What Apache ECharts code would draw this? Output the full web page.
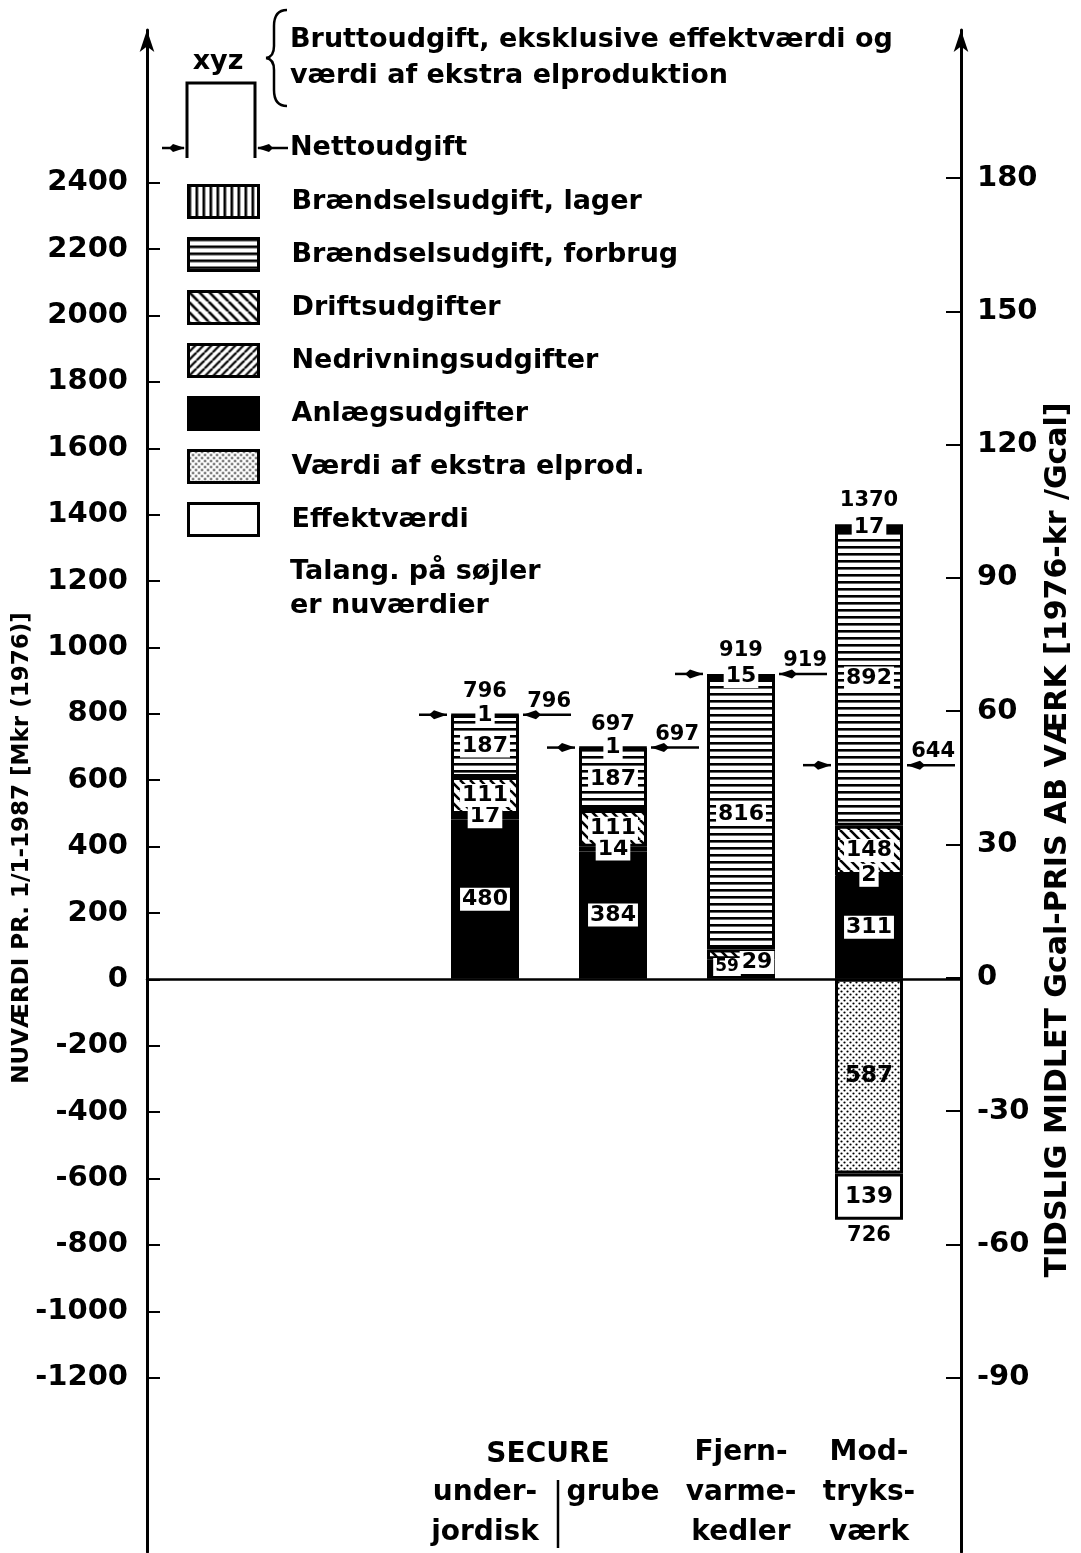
<!DOCTYPE html>
<html>
<head>
<meta charset="utf-8">
<script src="https://cdn.jsdelivr.net/npm/echarts@6/dist/echarts.min.js"></script>
<style>
html,body{margin:0;padding:0;background:#fff;}
#chart{width:1081px;height:1553px;}
</style>
</head>
<body>
<div id="chart"></div>
<script>
// ---------------- data ----------------
const categories = ['\nunder-\njordisk', '\ngrube', 'Fjern-\nvarme-\nkedler', 'Mod-\ntryks-\nværk'];
const anlaeg     = [480, 384, 59, 311];
const nedrivning = [17, 14, null, 2];
const drift      = [111, 111, 29, 148];
const forbrug    = [187, 187, 816, 892];
const lager      = [1, 1, 15, 17];
const elprod     = [null, null, null, -587];
const effekt     = [null, null, null, -139];
const bruttoTotal = [796, 697, 919, 1370];
const negTotal    = [null, null, null, -726];
const netto       = [796, 697, 919, 644];
const leftTicks  = [-1200, -1000, -800, -600, -400, -200, 0, 200, 400, 600, 800, 1000, 1200, 1400, 1600, 1800, 2000, 2200, 2400];
const rightTicks = [-90, -60, -30, 0, 30, 60, 90, 120, 150, 180];

const names = {
  lager: 'Brændselsudgift, lager',
  forbrug: 'Brændselsudgift, forbrug',
  drift: 'Driftsudgifter',
  nedriv: 'Nedrivningsudgifter',
  anlaeg: 'Anlægsudgifter',
  elprod: 'Værdi af ekstra elprod.',
  effekt: 'Effektværdi'
};

// ---------------- patterns ----------------
function pat(w, h, draw) {
  const c = document.createElement('canvas');
  c.width = w; c.height = h;
  const g = c.getContext('2d');
  g.fillStyle = '#fff'; g.fillRect(0, 0, w, h);
  g.fillStyle = '#000'; g.strokeStyle = '#000';
  draw(g, w, h);
  return { image: c, repeat: 'repeat' };
}
const patHoriz = pat(8, 7, (g, w) => { g.fillRect(0, 0, w, 2.6); });
const patVert  = pat(7, 8, (g, w, h) => { g.fillRect(0, 0, 2.6, h); });
const patBack  = pat(10, 10, (g, w) => {
  g.lineWidth = 2.6;
  for (const o of [-w, 0, w]) { g.beginPath(); g.moveTo(o, 0); g.lineTo(o + w, w); g.stroke(); }
});
const patFwd   = pat(8, 8, (g, w) => {
  g.lineWidth = 2.2;
  for (const o of [-w, 0, w]) { g.beginPath(); g.moveTo(o, w); g.lineTo(o + w, 0); g.stroke(); }
});
const patDots  = pat(6, 6, (g) => {
  g.beginPath(); g.arc(1.5, 1.5, 1.1, 0, Math.PI * 2); g.fill();
  g.beginPath(); g.arc(4.5, 4.5, 1.1, 0, Math.PI * 2); g.fill();
});

// ---------------- layout ----------------
const FONT = 'DejaVu Sans';
const BAR_W = 68;
const LMAX = 2860, LMIN0 = -1725, LMIN1 = -1357;
const RMAX = 213.3, RMIN = -129.2;

const segLabel = {
  show: true, position: 'inside', fontFamily: FONT, fontWeight: 'bold', fontSize: 22,
  color: '#000', backgroundColor: '#fff', padding: [1, 2, 0, 2],
  formatter: p => String(Math.abs(p.value))
};

function barSeries(name, values, color, extra) {
  return Object.assign({
    name, type: 'bar', stack: 'tot', xAxisIndex: 1, yAxisIndex: 2,
    barWidth: BAR_W, data: values,
    itemStyle: { color, borderColor: '#000', borderWidth: 3 },
    label: segLabel,
    emphasis: { disabled: true }
  }, extra || {});
}

const anlaegData = anlaeg.map((v, i) => i === 2 ? { value: v, label: { offset: [-14, -2], fontSize: 17 } } : v);
const driftData  = drift.map((v, i) => i === 2 ? { value: v, label: { offset: [16, 8] } } : v);

const arrowSeries = {
  type: 'custom', name: 'Nettoudgift', xAxisIndex: 1, yAxisIndex: 2, z: 5,
  data: netto.map((v, i) => [i, v]),
  renderItem: (params, api) => {
    const p = api.coord([api.value(0), api.value(1)]);
    const xl = p[0] - BAR_W / 2, xr = p[0] + BAR_W / 2, y = p[1];
    const ls = { stroke: '#000', lineWidth: 2.5 };
    return {
      type: 'group', children: [
        { type: 'line', shape: { x1: xl - 32, y1: y, x2: xl - 4, y2: y }, style: ls },
        { type: 'polygon', shape: { points: [[xl - 4, y], [xl - 17, y - 4.5], [xl - 22, y], [xl - 17, y + 4.5]] }, style: { fill: '#000' } },
        { type: 'line', shape: { x1: xr + 4, y1: y, x2: xr + 52, y2: y }, style: ls },
        { type: 'polygon', shape: { points: [[xr + 4, y], [xr + 17, y - 4.5], [xr + 22, y], [xr + 17, y + 4.5]] }, style: { fill: '#000' } },
        { type: 'text', style: { x: xr + 52, y: y - 3, text: String(api.value(1)), align: 'right', verticalAlign: 'bottom', font: 'bold 21px ' + FONT, fill: '#000' } }
      ]
    };
  }
};

const totalSeries = {
  type: 'custom', name: 'Total', xAxisIndex: 1, yAxisIndex: 2, z: 5,
  data: bruttoTotal.map((v, i) => [i, v]).concat(negTotal.map((v, i) => [i, v]).filter(d => d[1] !== null)),
  renderItem: (params, api) => {
    const v = api.value(1);
    const p = api.coord([api.value(0), v]);
    return {
      type: 'text',
      style: { x: p[0], y: v >= 0 ? p[1] - 13 : p[1] + 5, text: String(Math.abs(v)), align: 'center',
        verticalAlign: v >= 0 ? 'bottom' : 'top', font: 'bold 21px ' + FONT, fill: '#000' }
    };
  }
};

const txt = (x, y, text, size, extra) => ({
  type: 'text', x, y, style: Object.assign({ text, font: 'bold ' + size + 'px ' + FONT, fill: '#000', verticalAlign: 'middle' }, extra || {})
});
const bz = (x1, y1, cx, cy, x2, y2) => ({
  type: 'bezierCurve', shape: { x1, y1, x2, y2, cpx1: cx, cpy1: cy }, style: { stroke: '#000', lineWidth: 2.5, fill: null }
});
const ln = (x1, y1, x2, y2, w) => ({ type: 'line', shape: { x1, y1, x2, y2 }, style: { stroke: '#000', lineWidth: w || 2.5 } });

const option = {
  backgroundColor: '#fff',
  animation: false,
  textStyle: { fontFamily: FONT, color: '#000' },
  grid: [
    { left: 147, right: 120, top: 30, bottom: 1 },
    { left: 421, right: 148, top: 30, bottom: 123 }
  ],
  xAxis: [
    { type: 'category', gridIndex: 0, data: [''], axisLine: { onZero: true, lineStyle: { color: '#000', width: 2.5 } }, axisTick: { show: false }, axisLabel: { show: false } },
    { type: 'category', gridIndex: 1, data: categories, axisLine: { show: false }, axisTick: { show: false },
      axisLabel: { interval: 0, margin: 4, fontFamily: FONT, fontWeight: 'bold', fontSize: 28, lineHeight: 40, color: '#000' } }
  ],
  yAxis: [
    { type: 'value', gridIndex: 0, position: 'left', min: LMIN0, max: LMAX,
      axisLine: { show: true, symbol: ['none', 'arrow'], symbolSize: [11, 22], lineStyle: { color: '#000', width: 3 } },
      axisTick: { show: true, inside: true, length: 13, customValues: leftTicks, lineStyle: { color: '#000', width: 2 } },
      axisLabel: { customValues: leftTicks, margin: 19, fontFamily: FONT, fontWeight: 'bold', fontSize: 29, color: '#000', formatter: v => String(v) },
      splitLine: { show: false } },
    { type: 'value', gridIndex: 0, position: 'right', min: RMIN, max: RMAX,
      axisLine: { show: true, symbol: ['none', 'arrow'], symbolSize: [11, 22], lineStyle: { color: '#000', width: 3 } },
      axisTick: { show: true, inside: true, length: 15, customValues: rightTicks, lineStyle: { color: '#000', width: 2 } },
      axisLabel: { customValues: rightTicks, margin: 16, fontFamily: FONT, fontWeight: 'bold', fontSize: 29, color: '#000', formatter: v => String(v) },
      splitLine: { show: false } },
    { type: 'value', gridIndex: 1, min: LMIN1, max: LMAX, show: false, splitLine: { show: false } }
  ],
  legend: {
    data: [names.lager, names.forbrug, names.drift, names.nedriv, names.anlaeg, names.elprod, names.effekt],
    orient: 'vertical', left: 182, top: 179, padding: 5, itemWidth: 70, itemHeight: 32, itemGap: 18, icon: 'rect',
    selectedMode: false,
    itemStyle: { borderColor: '#000', borderWidth: 3 },
    textStyle: { fontFamily: FONT, fontWeight: 'bold', fontSize: 27, lineHeight: 28, color: '#000', padding: [0, 0, 0, 28] }
  },
  series: [
    barSeries(names.anlaeg, anlaegData, '#000'),
    barSeries(names.nedriv, nedrivning, patFwd),
    barSeries(names.drift, driftData, patBack),
    barSeries(names.forbrug, forbrug, patHoriz),
    barSeries(names.lager, lager, patVert),
    barSeries(names.elprod, elprod, patDots, { label: Object.assign({}, segLabel, { backgroundColor: 'transparent', fontSize: 23 }) }),
    barSeries(names.effekt, effekt, '#fff', { label: Object.assign({}, segLabel, { backgroundColor: 'transparent', fontSize: 23 }) }),
    arrowSeries,
    totalSeries
  ],
  graphic: [
    // header schematic for the legend
    txt(218, 62, 'xyz', 27, { align: 'center' }),
    { type: 'polyline', shape: { points: [[187, 158], [187, 83], [255, 83], [255, 158]] }, style: { stroke: '#000', lineWidth: 3, fill: null } },
    ln(162, 148, 184, 148),
    { type: 'polygon', shape: { points: [[185, 148], [173, 144], [169, 148], [173, 152]] }, style: { fill: '#000' } },
    ln(258, 148, 288, 148),
    { type: 'polygon', shape: { points: [[257, 148], [269, 144], [273, 148], [269, 152]] }, style: { fill: '#000' } },
    txt(290, 148, 'Nettoudgift', 27),
    bz(287, 10, 274, 10, 274, 26), ln(274, 26, 274, 46), bz(274, 46, 274, 57, 266, 58),
    bz(266, 58, 274, 59, 274, 70), ln(274, 70, 274, 90), bz(274, 90, 274, 106, 287, 106),
    txt(290, 40, 'Bruttoudgift, eksklusive effektværdi og', 27),
    txt(290, 76, 'værdi af ekstra elproduktion', 27),
    txt(290, 572, 'Talang. på søjler', 27),
    txt(290, 606, 'er nuværdier', 27),
    // category group heading and separator
    txt(548, 1455, 'SECURE', 28, { align: 'center' }),
    ln(558, 1480, 558, 1548),
    // axis titles
    { type: 'text', x: 22, y: 848, rotation: Math.PI / 2,
      style: { text: 'NUVÆRDI PR. 1/1-1987 [Mkr (1976)]', font: 'bold 23px ' + FONT, fill: '#000', align: 'center', verticalAlign: 'middle' } },
    { type: 'text', x: 1058, y: 840, rotation: Math.PI / 2,
      style: { text: 'TIDSLIG MIDLET Gcal-PRIS AB VÆRK [1976-kr /Gcal]', font: 'bold 30px ' + FONT, fill: '#000', align: 'center', verticalAlign: 'middle' } }
  ]
};

const chart = echarts.init(document.getElementById('chart'), null, { renderer: 'canvas' });
chart.setOption(option);
</script>
</body>
</html>
